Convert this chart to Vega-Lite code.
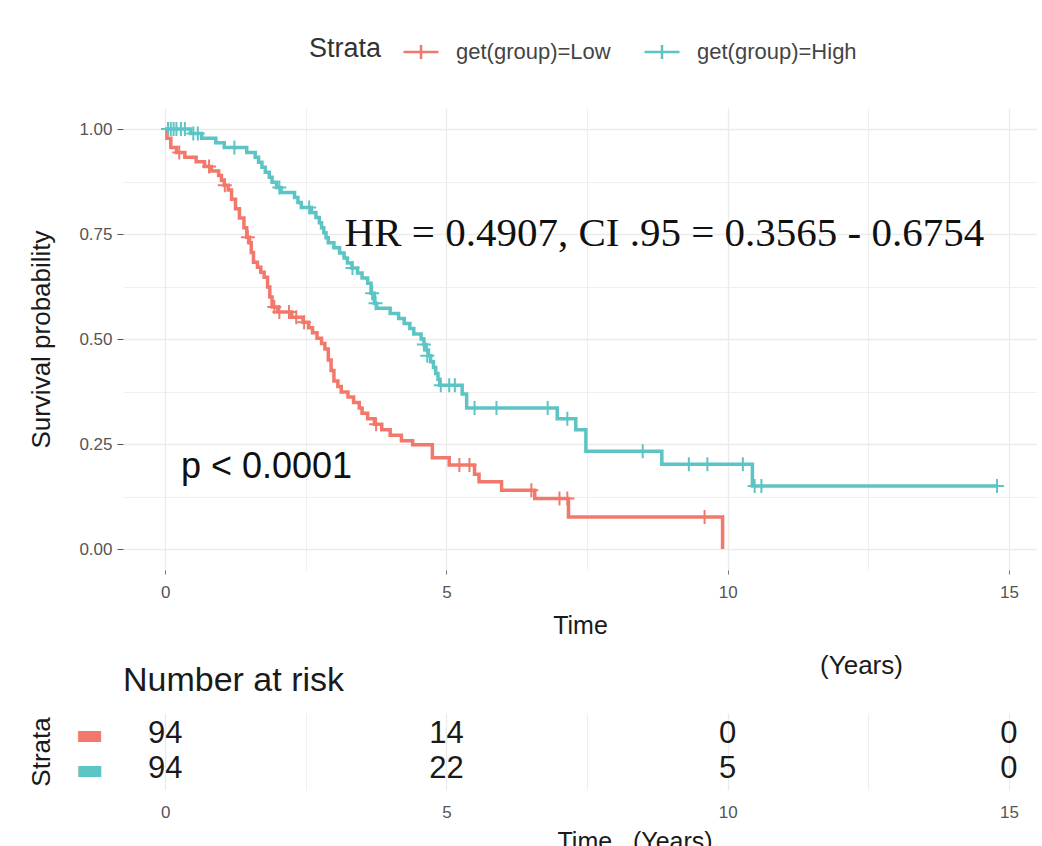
{
  "$schema": "https://vega.github.io/schema/vega-lite/v6.json",
  "padding": {"left": 28, "top": 33, "right": 0, "bottom": 0},
  "background": "white",
  "config": {"font": "Liberation Sans", "view": {"stroke": null}},
  "bounds": "flush",
  "spacing": 143,
  "datasets": {
    "curves": [
      {"strata":"Low","time":0,"surv":1.0},{"strata":"Low","time":0.03,"surv":0.978},{"strata":"Low","time":0.1,"surv":0.956},{"strata":"Low","time":0.2,"surv":0.944},{"strata":"Low","time":0.35,"surv":0.933},{"strata":"Low","time":0.55,"surv":0.922},{"strata":"Low","time":0.7,"surv":0.911},{"strata":"Low","time":0.82,"surv":0.9},{"strata":"Low","time":0.95,"surv":0.889},{"strata":"Low","time":1.0,"surv":0.878},{"strata":"Low","time":1.05,"surv":0.866},{"strata":"Low","time":1.12,"surv":0.855},{"strata":"Low","time":1.18,"surv":0.833},{"strata":"Low","time":1.25,"surv":0.81},{"strata":"Low","time":1.32,"surv":0.788},{"strata":"Low","time":1.4,"surv":0.765},{"strata":"Low","time":1.45,"surv":0.742},{"strata":"Low","time":1.5,"surv":0.729},{"strata":"Low","time":1.53,"surv":0.706},{"strata":"Low","time":1.57,"surv":0.683},{"strata":"Low","time":1.64,"surv":0.671},{"strata":"Low","time":1.7,"surv":0.659},{"strata":"Low","time":1.76,"surv":0.647},{"strata":"Low","time":1.82,"surv":0.624},{"strata":"Low","time":1.86,"surv":0.6},{"strata":"Low","time":1.9,"surv":0.576},{"strata":"Low","time":2.0,"surv":0.564},{"strata":"Low","time":2.25,"surv":0.552},{"strata":"Low","time":2.45,"surv":0.54},{"strata":"Low","time":2.55,"surv":0.527},{"strata":"Low","time":2.62,"surv":0.515},{"strata":"Low","time":2.7,"surv":0.502},{"strata":"Low","time":2.78,"surv":0.489},{"strata":"Low","time":2.84,"surv":0.476},{"strata":"Low","time":2.9,"surv":0.45},{"strata":"Low","time":2.95,"surv":0.425},{"strata":"Low","time":3.0,"surv":0.4},{"strata":"Low","time":3.07,"surv":0.387},{"strata":"Low","time":3.13,"surv":0.374},{"strata":"Low","time":3.25,"surv":0.362},{"strata":"Low","time":3.35,"surv":0.349},{"strata":"Low","time":3.45,"surv":0.336},{"strata":"Low","time":3.5,"surv":0.323},{"strata":"Low","time":3.6,"surv":0.31},{"strata":"Low","time":3.72,"surv":0.297},{"strata":"Low","time":3.85,"surv":0.284},{"strata":"Low","time":4.0,"surv":0.271},{"strata":"Low","time":4.2,"surv":0.258},{"strata":"Low","time":4.4,"surv":0.248},{"strata":"Low","time":4.75,"surv":0.217},{"strata":"Low","time":5.05,"surv":0.2},{"strata":"Low","time":5.5,"surv":0.178},{"strata":"Low","time":5.58,"surv":0.16},{"strata":"Low","time":5.98,"surv":0.14},{"strata":"Low","time":6.57,"surv":0.12},{"strata":"Low","time":7.17,"surv":0.076},{"strata":"Low","time":9.91,"surv":0.0},
      {"strata":"High","time":0,"surv":1.0},{"strata":"High","time":0.45,"surv":0.989},{"strata":"High","time":0.65,"surv":0.978},{"strata":"High","time":0.9,"surv":0.967},{"strata":"High","time":1.05,"surv":0.956},{"strata":"High","time":1.45,"surv":0.944},{"strata":"High","time":1.6,"surv":0.933},{"strata":"High","time":1.66,"surv":0.921},{"strata":"High","time":1.72,"surv":0.909},{"strata":"High","time":1.78,"surv":0.897},{"strata":"High","time":1.85,"surv":0.885},{"strata":"High","time":1.9,"surv":0.873},{"strata":"High","time":1.98,"surv":0.861},{"strata":"High","time":2.06,"surv":0.849},{"strata":"High","time":2.3,"surv":0.837},{"strata":"High","time":2.36,"surv":0.825},{"strata":"High","time":2.42,"surv":0.813},{"strata":"High","time":2.6,"surv":0.801},{"strata":"High","time":2.68,"surv":0.789},{"strata":"High","time":2.74,"surv":0.777},{"strata":"High","time":2.78,"surv":0.765},{"strata":"High","time":2.82,"surv":0.753},{"strata":"High","time":2.86,"surv":0.741},{"strata":"High","time":2.9,"surv":0.729},{"strata":"High","time":3.0,"surv":0.717},{"strata":"High","time":3.1,"surv":0.705},{"strata":"High","time":3.18,"surv":0.693},{"strata":"High","time":3.24,"surv":0.681},{"strata":"High","time":3.32,"surv":0.669},{"strata":"High","time":3.42,"surv":0.657},{"strata":"High","time":3.5,"surv":0.645},{"strata":"High","time":3.6,"surv":0.633},{"strata":"High","time":3.66,"surv":0.609},{"strata":"High","time":3.72,"surv":0.585},{"strata":"High","time":3.76,"surv":0.573},{"strata":"High","time":4.0,"surv":0.561},{"strata":"High","time":4.15,"surv":0.549},{"strata":"High","time":4.25,"surv":0.537},{"strata":"High","time":4.35,"surv":0.525},{"strata":"High","time":4.42,"surv":0.512},{"strata":"High","time":4.55,"surv":0.5},{"strata":"High","time":4.6,"surv":0.487},{"strata":"High","time":4.64,"surv":0.474},{"strata":"High","time":4.68,"surv":0.46},{"strata":"High","time":4.72,"surv":0.446},{"strata":"High","time":4.77,"surv":0.432},{"strata":"High","time":4.81,"surv":0.418},{"strata":"High","time":4.85,"surv":0.404},{"strata":"High","time":4.88,"surv":0.39},{"strata":"High","time":5.28,"surv":0.369},{"strata":"High","time":5.36,"surv":0.336},{"strata":"High","time":6.97,"surv":0.31},{"strata":"High","time":7.3,"surv":0.284},{"strata":"High","time":7.48,"surv":0.233},{"strata":"High","time":8.83,"surv":0.202},{"strata":"High","time":10.44,"surv":0.15},{"strata":"High","time":14.79,"surv":0.15}
    ],
    "censors": [
      {"strata":"Low","time":0.25,"surv":0.944},{"strata":"Low","time":0.78,"surv":0.911},{"strata":"Low","time":1.06,"surv":0.866},{"strata":"Low","time":1.47,"surv":0.742},{"strata":"Low","time":1.94,"surv":0.576},{"strata":"Low","time":2.03,"surv":0.564},{"strata":"Low","time":2.2,"surv":0.564},{"strata":"Low","time":2.33,"surv":0.552},{"strata":"Low","time":2.47,"surv":0.54},{"strata":"Low","time":3.75,"surv":0.297},{"strata":"Low","time":5.23,"surv":0.2},{"strata":"Low","time":5.41,"surv":0.2},{"strata":"Low","time":6.51,"surv":0.14},{"strata":"Low","time":7.01,"surv":0.12},{"strata":"Low","time":7.15,"surv":0.12},{"strata":"Low","time":9.59,"surv":0.076},
      {"strata":"High","time":0.05,"surv":1.0},{"strata":"High","time":0.1,"surv":1.0},{"strata":"High","time":0.15,"surv":1.0},{"strata":"High","time":0.2,"surv":1.0},{"strata":"High","time":0.28,"surv":1.0},{"strata":"High","time":0.35,"surv":1.0},{"strata":"High","time":0.5,"surv":0.989},{"strata":"High","time":0.58,"surv":0.989},{"strata":"High","time":1.23,"surv":0.956},{"strata":"High","time":2.03,"surv":0.861},{"strata":"High","time":2.56,"surv":0.813},{"strata":"High","time":3.33,"surv":0.669},{"strata":"High","time":3.68,"surv":0.609},{"strata":"High","time":3.74,"surv":0.585},{"strata":"High","time":4.6,"surv":0.487},{"strata":"High","time":4.66,"surv":0.46},{"strata":"High","time":4.9,"surv":0.39},{"strata":"High","time":5.05,"surv":0.39},{"strata":"High","time":5.15,"surv":0.39},{"strata":"High","time":5.5,"surv":0.336},{"strata":"High","time":5.89,"surv":0.336},{"strata":"High","time":6.8,"surv":0.336},{"strata":"High","time":7.15,"surv":0.31},{"strata":"High","time":8.49,"surv":0.233},{"strata":"High","time":9.31,"surv":0.202},{"strata":"High","time":9.64,"surv":0.202},{"strata":"High","time":10.27,"surv":0.202},{"strata":"High","time":10.48,"surv":0.15},{"strata":"High","time":10.6,"surv":0.15},{"strata":"High","time":14.79,"surv":0.15}
    ],
    "risk": [
      {"strata":"Low","time":0,"n":94},{"strata":"Low","time":5,"n":14},{"strata":"Low","time":10,"n":0},{"strata":"Low","time":15,"n":0},
      {"strata":"High","time":0,"n":94},{"strata":"High","time":5,"n":22},{"strata":"High","time":10,"n":5},{"strata":"High","time":15,"n":0}
    ]
  },
  "vconcat": [
    {
      "width": 914,
      "height": 462,
      "layer": [
        {
          "data": {"name": "curves"},
          "mark": {"type": "line", "interpolate": "step-after", "strokeWidth": 3.5},
          "encoding": {
            "x": {"field": "time", "type": "quantitative", "title": "Time",
              "scale": {"domain": [-0.75, 15.5], "nice": false, "zero": false},
              "axis": {"values": [0, 2.5, 5, 7.5, 10, 12.5, 15], "labelExpr": "datum.value % 5 === 0 ? format(datum.value, 'd') : ''",
                "domain": false, "ticks": true, "tickSize": 4, "tickColor": "#777",
                "tickOpacity": {"condition": {"test": "datum.value % 5 !== 0", "value": 0}, "value": 1},
                "gridColor": "#ebebeb", "gridWidth": {"condition": {"test": "datum.value % 5 !== 0", "value": 0.8}, "value": 1.3},
                "labelFontSize": 17, "labelColor": "#555", "labelPadding": 10,
                "titleFontSize": 25, "titleFontWeight": "normal", "titleColor": "#1a1a1a", "titlePadding": 13}},
            "y": {"field": "surv", "type": "quantitative", "title": "Survival probability",
              "scale": {"domain": [-0.05, 1.05], "nice": false, "zero": false},
              "axis": {"values": [0, 0.125, 0.25, 0.375, 0.5, 0.625, 0.75, 0.875, 1.0],
                "labelExpr": "(datum.value * 4) % 1 === 0 ? format(datum.value, '.2f') : ''",
                "domain": false, "ticks": true, "tickSize": 6, "tickColor": "#555",
                "tickOpacity": {"condition": {"test": "(datum.value * 4) % 1 !== 0", "value": 0}, "value": 1},
                "gridColor": "#ebebeb", "gridWidth": {"condition": {"test": "(datum.value * 4) % 1 !== 0", "value": 0.8}, "value": 1.3},
                "labelFontSize": 17, "labelColor": "#555", "labelPadding": 5,
                "minExtent": 56, "maxExtent": 56,
                "titleFontSize": 26, "titleFontWeight": "normal", "titleColor": "#1a1a1a", "titlePadding": 13}},
            "color": {"field": "strata", "type": "nominal", "title": "Strata",
              "scale": {"domain": ["Low", "High"], "range": ["#F3786C", "#5CC4C4"]},
              "legend": {"orient": "none", "legendX": 186, "legendY": -75, "direction": "horizontal",
                "titleOrient": "left", "titleFontSize": 27, "titleFontWeight": "normal", "titleColor": "#333",
                "titlePadding": 20, "titleBaseline": "middle",
                "labelExpr": "'get(group)=' + datum.label", "labelFontSize": 22, "labelColor": "#444", "labelOffset": 16,
                "symbolType": "M-1,0H1M0,-0.4V0.4", "symbolSize": 1225, "symbolStrokeWidth": 2.5, "symbolFillColor": "transparent",
                "columnPadding": 28}}
          }
        },
        {
          "data": {"name": "censors"},
          "mark": {"type": "point", "shape": "M-1,0H1M0,-1V1", "size": 196, "strokeWidth": 2, "filled": false, "opacity": 1},
          "encoding": {
            "x": {"field": "time", "type": "quantitative"},
            "y": {"field": "surv", "type": "quantitative"},
            "color": {"field": "strata", "type": "nominal"}
          }
        },
        {
          "data": {"values": [{}]},
          "mark": {"type": "text", "font": "Liberation Serif", "fontSize": 41, "align": "left", "baseline": "middle", "color": "#111"},
          "encoding": {"x": {"datum": 3.19, "type": "quantitative"}, "y": {"datum": 0.75, "type": "quantitative"}, "text": {"value": "HR = 0.4907, CI .95 = 0.3565 - 0.6754"}}
        },
        {
          "data": {"values": [{}]},
          "mark": {"type": "text", "fontSize": 36, "align": "left", "baseline": "middle", "color": "#111"},
          "encoding": {"x": {"datum": 0.28, "type": "quantitative"}, "y": {"datum": 0.195, "type": "quantitative"}, "text": {"value": "p < 0.0001"}}
        },
        {
          "data": {"values": [{}]},
          "mark": {"type": "text", "fontSize": 26, "align": "center", "baseline": "middle", "color": "#1a1a1a"},
          "encoding": {"x": {"datum": 12.38, "type": "quantitative"}, "y": {"datum": -0.279, "type": "quantitative"}, "text": {"value": "(Years)"}}
        }
      ]
    },
    {
      "width": 914,
      "height": 77,
      "title": {"text": "Number at risk", "anchor": "start", "frame": "group", "fontSize": 34, "fontWeight": "normal", "color": "#1a1a1a", "offset": 15},
      "data": {"name": "risk"},
      "mark": {"type": "text", "fontSize": 31, "color": "#1a1a1a", "baseline": "middle"},
      "encoding": {
        "x": {"field": "time", "type": "quantitative", "title": "Time\u00a0\u00a0\u00a0(Years)",
          "scale": {"domain": [-0.75, 15.5], "nice": false, "zero": false},
          "axis": {"values": [0, 2.5, 5, 7.5, 10, 12.5, 15], "labelExpr": "datum.value % 5 === 0 ? format(datum.value, 'd') : ''",
            "domain": false, "ticks": false, "gridColor": "#ebebeb",
            "gridWidth": {"condition": {"test": "datum.value % 5 !== 0", "value": 0.8}, "value": 1.3},
            "labelFontSize": 17, "labelColor": "#555", "labelPadding": 14,
            "titleFontSize": 25, "titleFontWeight": "normal", "titleColor": "#1a1a1a", "titlePadding": 9,
            "titleAlign": "left", "titleX": 434}},
        "y": {"field": "strata", "type": "nominal", "title": "Strata",
          "scale": {"type": "point", "domain": ["Low", "High"], "padding": 0.6},
          "axis": {"labelExpr": "'▬'", "labelFontSize": 30, "labelFont": "DejaVu Sans",
            "labelColor": {"condition": {"test": "datum.value === 'Low'", "value": "#F3786C"}, "value": "#5CC4C4"},
            "domain": false, "ticks": false, "labelPadding": 20, "gridColor": "#ebebeb", "gridWidth": 1.3,
            "minExtent": 56, "maxExtent": 56,
            "titleFontSize": 26, "titleFontWeight": "normal", "titleColor": "#1a1a1a", "titlePadding": 13}},
        "text": {"field": "n", "type": "quantitative"}
      }
    }
  ]
}
